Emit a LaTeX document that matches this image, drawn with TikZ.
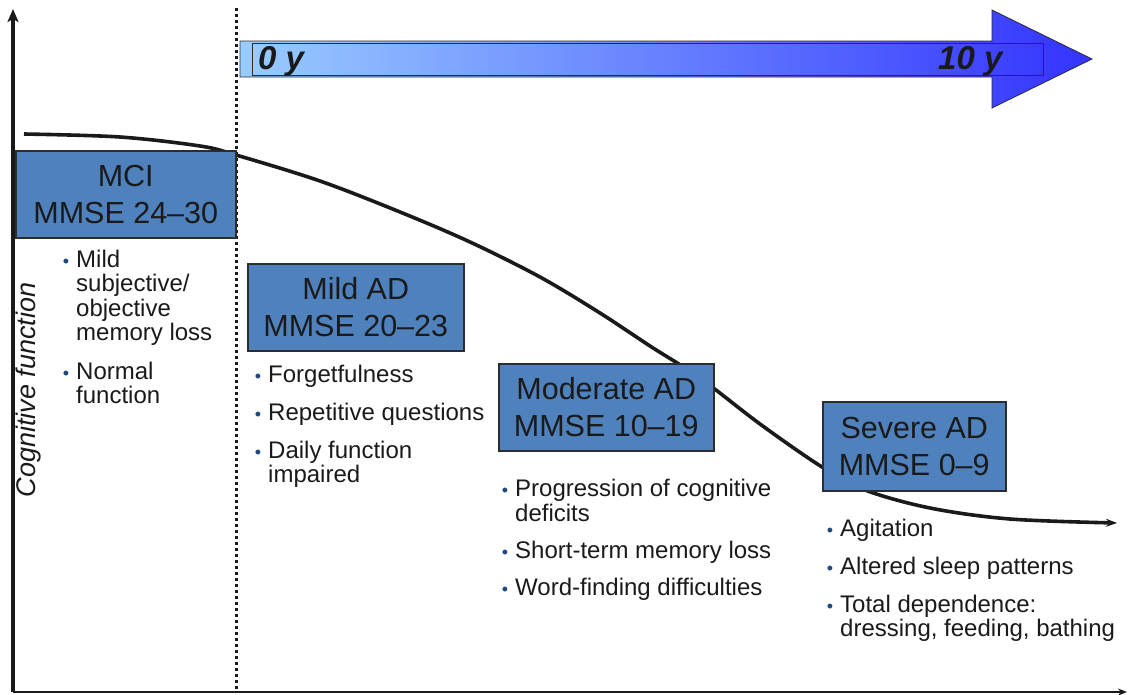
\documentclass[tikz,border=0pt]{standalone}
\usepackage{fontspec}
\setmainfont{Liberation Sans}
\usetikzlibrary{arrows.meta}
\definecolor{boxfill}{RGB}{79,129,189}
\definecolor{boxedge}{RGB}{45,45,45}
\definecolor{bulc}{RGB}{31,73,125}
\definecolor{tlL}{RGB}{153,204,255}
\definecolor{tlR}{RGB}{51,51,255}
\definecolor{ink}{RGB}{26,26,26}
\newcommand{\bul}{\llap{\textcolor{bulc}{\fontsize{18}{18}\selectfont\raisebox{0pt}{•}}\hspace{7pt}}}
\tikzset{
  stage/.style={draw=boxedge, line width=1.5pt, fill=boxfill, text=ink, align=center,
    font=\fontsize{30.5}{37}\selectfont, inner sep=0pt, anchor=north west},
  blist/.style={anchor=base west, align=left, inner sep=0pt, text=ink,
    font=\fontsize{24}{24.5}\selectfont},
  tlabel/.style={anchor=base west, inner sep=0pt, text=ink, font=\bfseries\itshape\fontsize{33}{33}\selectfont},
  axis/.style={draw=ink, line width=3.2pt},
}
\begin{document}
\begin{tikzpicture}[x=1pt, y=-1pt]
\useasboundingbox (0,0) rectangle (1128,694);
% axes
\coordinate (origin) at (13,692);
\coordinate (ytop) at (13,9);
\coordinate (xend) at (1127,692);
\coordinate (dtop) at (236,8);
\coordinate (dbot) at (236,692);
\draw[axis, -{Stealth[length=13pt,width=11pt,inset=3pt]}] (origin) -- (ytop);
\draw[draw=ink, line width=2.2pt, -{Stealth[length=9pt,width=7pt]}] (origin) -- (xend);
\draw[draw=ink, line width=3pt, dash pattern=on 2.8pt off 3.2pt] (dtop) -- (dbot);
% timeline arrow
\path[draw=boxedge, line width=0.8pt, left color=tlL, right color=tlR]
  (240,41) -- (992,41) -- (992,10) -- (1092,59) -- (992,108) -- (992,77) -- (240,77) -- cycle;
\node[draw=boxedge, line width=1.3pt, minimum width=791pt, minimum height=32pt, anchor=north west, inner sep=0pt] (bar) at (252,43) {};
\node[tlabel] (t0) at (258,69) {0 y};
\node[tlabel] (t10) at (938,69) {10 y};
% decline curve
\draw[draw=ink, line width=3.6pt, -{Stealth[length=11pt,width=8pt]}] plot[smooth, tension=0.55] coordinates {
  (24,134) (120,137) (200,146) (236,155) (320,181) (400,212) (470,242) (540,277)
  (600,313) (650,346) (700,378) (760,424) (822,467) (865,490) (930,508) (1010,519) (1117,523)};
% stage boxes
\node[stage, minimum width=220pt, minimum height=87pt] (mci) at (15,150) {MCI\\MMSE 24–30};
\node[stage, minimum width=216pt, minimum height=87pt] (mild) at (247,263) {Mild AD\\MMSE 20–23};
\node[stage, minimum width=215pt, minimum height=87pt] (mod) at (498,363) {Moderate AD\\MMSE 10–19};
\node[stage, minimum width=183pt, minimum height=89pt] (sev) at (822,401) {Severe AD\\MMSE 0–9};
% y label
\node[rotate=90, anchor=base, inner sep=0pt, text=ink, font=\itshape\fontsize{27}{27}\selectfont] (ylab) at (35,390) {Cognitive function};
% bullet lists (anchor = baseline of the last line)
\node[blist] (m1) at (76,340.5) {\bul Mild\\subjective/\\objective\\memory loss};
\node[blist] (m2) at (76,403.5) {\bul Normal\\function};
\node[blist] (a1) at (268,382) {\bul Forgetfulness};
\node[blist] (a2) at (268,420) {\bul Repetitive questions};
\node[blist] (a3) at (268,482.5) {\bul Daily function\\impaired};
\node[blist] (o1) at (515,521) {\bul Progression of cognitive\\deficits};
\node[blist] (o2) at (515,558) {\bul Short-term memory loss};
\node[blist] (o3) at (515,595) {\bul Word-finding difficulties};
\node[blist] (s1) at (840,536) {\bul Agitation};
\node[blist] (s2) at (840,574) {\bul Altered sleep patterns};
\node[blist] (s3) at (840,636.5) {\bul Total dependence:\\dressing, feeding, bathing};
\end{tikzpicture}
\end{document}
